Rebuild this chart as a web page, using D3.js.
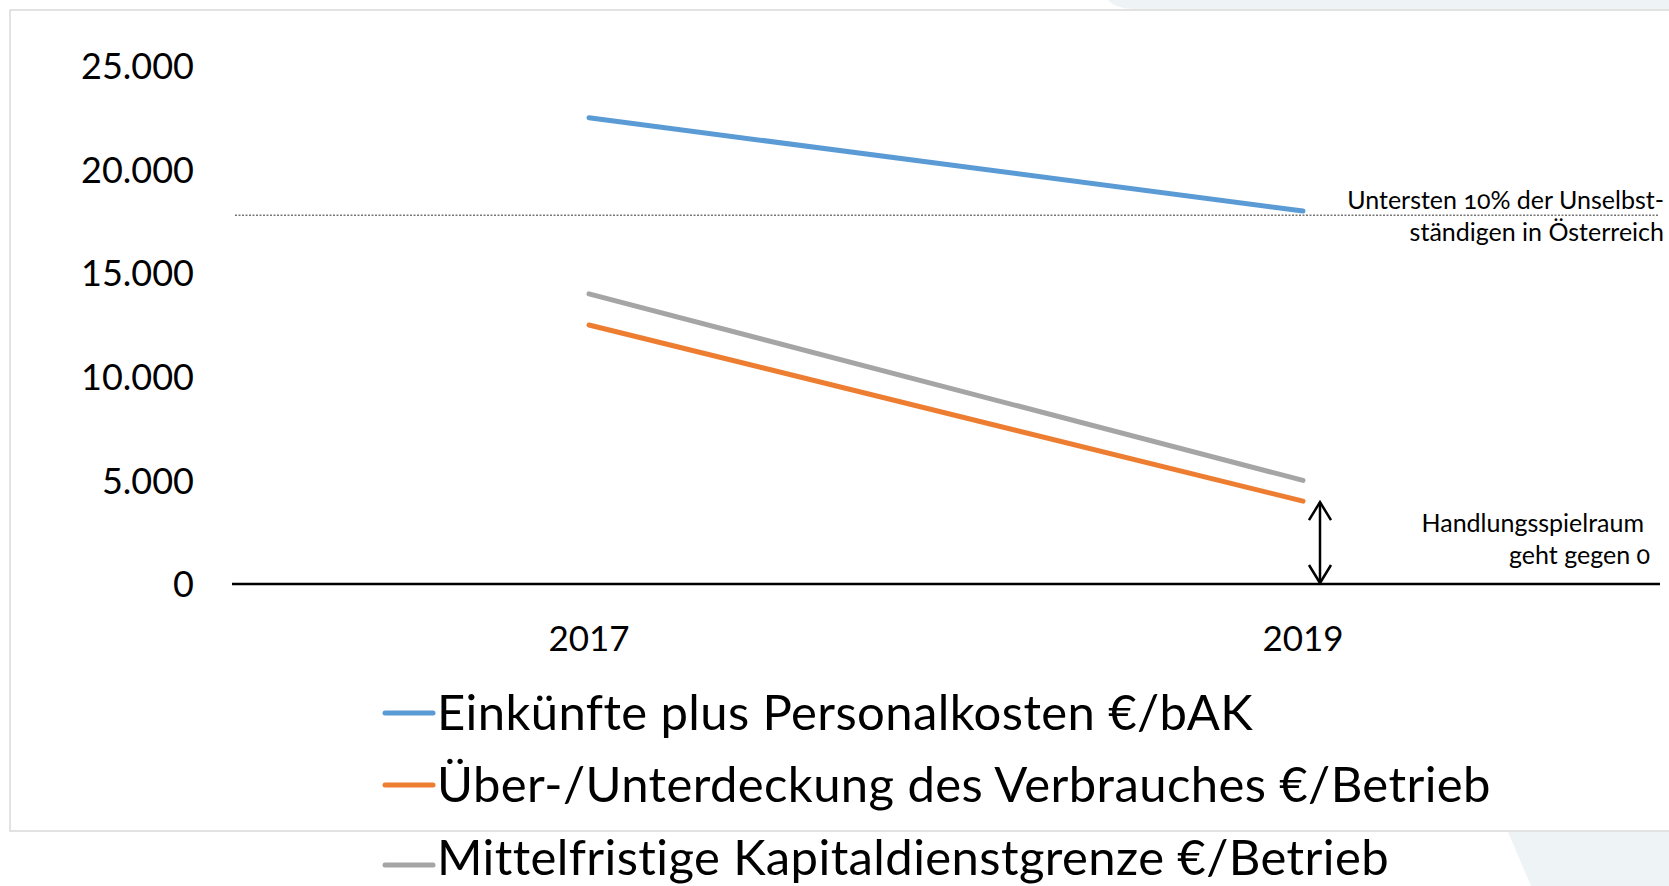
<!DOCTYPE html>
<html>
<head>
<meta charset="utf-8">
<script src="https://cdn.jsdelivr.net/npm/d3@7"></script>
<style>
  html, body { margin: 0; padding: 0; background: #fff; }
  svg { display: block; font-family: Lato, "Open Sans", sans-serif; }
  .note { font-variant-numeric: oldstyle-nums; }
</style>
</head>
<body>
<div id="chart"></div>
<script>
// data
const years = ["2017", "2019"];
const einkuenfte = [22500, 18000];      // Einkünfte plus Personalkosten €/bAK
const deckung = [12500, 4000];          // Über-/Unterdeckung des Verbrauches €/Betrieb
const kapitaldienst = [14000, 5000];    // Mittelfristige Kapitaldienstgrenze €/Betrieb
const yTicks = [0, 5000, 10000, 15000, 20000, 25000];
const untergrenze = 17800;              // unterste 10% der Unselbstständigen
const seriesNames = [
  "Einkünfte plus Personalkosten €/bAK",
  "Über-/Unterdeckung des Verbrauches €/Betrieb",
  "Mittelfristige Kapitaldienstgrenze €/Betrieb"
];
const seriesColors = ["#5b9bd5", "#ed7d31", "#a5a5a5"];

const width = 1669, height = 886;

const svg = d3.select("#chart")
  .append("svg")
  .attr("width", width)
  .attr("height", height);

// slide decoration in the corners
svg.append("path")
  .attr("d", "M1108,0 Q1116,9 1136,9 L1669,9 L1669,0 Z")
  .style("fill", "#eef3f6");
svg.append("path")
  .attr("d", "M1508,832 L1669,832 L1669,886 L1531,886 Z")
  .style("fill", "#eef3f6");

// frame
svg.append("path")
  .attr("d", "M1680,10 L10,10 L10,831 L1680,831")
  .style("fill", "none")
  .style("stroke", "#d9d9d9")
  .style("stroke-width", 1.5);

const de = d3.formatLocale({decimal: ",", thousands: ".", grouping: [3], currency: ["", " €"]});
const fmt = de.format(",.0f");

const x = d3.scaleBand()
  .domain(years)
  .range([232, 1660]);
const cx = d => x(d) + x.bandwidth() / 2;

const y = d3.scaleLinear()
  .domain([0, 25000])
  .range([584, 66]);

// y axis labels
svg.append("g")
  .attr("transform", "translate(194,0)")
  .call(d3.axisLeft(y).tickValues(yTicks).tickFormat(fmt).tickSize(0).tickPadding(0))
  .call(g => g.select(".domain").remove())
  .call(g => g.selectAll("text")
    .attr("dy", "0.35em")
    .style("font-family", "Lato, sans-serif")
    .style("font-size", "36px")
    .style("fill", "#000"));

// x axis labels
svg.append("g")
  .attr("transform", `translate(0,${y(0)})`)
  .call(d3.axisBottom(x).tickSize(0).tickPadding(0))
  .call(g => g.select(".domain").remove())
  .call(g => g.selectAll("text")
    .attr("y", 55)
    .attr("dy", "0.35em")
    .style("font-family", "Lato, sans-serif")
    .style("font-size", "35px")
    .style("fill", "#000"));

// zero line
svg.append("line")
  .attr("x1", x.range()[0]).attr("x2", x.range()[1])
  .attr("y1", y(0)).attr("y2", y(0))
  .style("stroke", "#000")
  .style("stroke-width", 2.6);

// dotted reference line
svg.append("line")
  .attr("x1", 235).attr("x2", 1659)
  .attr("y1", y(untergrenze)).attr("y2", y(untergrenze))
  .style("stroke", "#333")
  .style("stroke-width", 1)
  .style("stroke-dasharray", "2,1.5");

// series lines
const series = [einkuenfte, deckung, kapitaldienst];
const line = d3.line()
  .x((d, i) => cx(years[i]))
  .y(d => y(d));

svg.selectAll(".series")
  .data([kapitaldienst, deckung, einkuenfte])
  .join("path")
  .attr("class", "series")
  .attr("d", d => line(d))
  .style("fill", "none")
  .style("stroke", d => seriesColors[series.indexOf(d)])
  .style("stroke-width", 5)
  .style("stroke-linecap", "round");

// double arrow from 2019 value down to zero
const ax = cx(years[1]) + 17;
const aTop = y(deckung[1]), aBot = y(0);
const arrow = svg.append("g")
  .style("fill", "none")
  .style("stroke", "#000")
  .style("stroke-width", 2.5);
arrow.append("line")
  .attr("x1", ax).attr("x2", ax)
  .attr("y1", aTop + 1).attr("y2", aBot - 1);
arrow.append("path")
  .attr("d", `M${ax - 11},${aTop + 19} L${ax},${aTop + 1} L${ax + 11},${aTop + 19}`);
arrow.append("path")
  .attr("d", `M${ax - 11},${aBot - 19} L${ax},${aBot - 1} L${ax + 11},${aBot - 19}`);

// annotations
const notes = svg.append("g")
  .attr("class", "note")
  .style("font-family", "Lato, sans-serif")
  .style("font-size", "25px")
  .style("fill", "#000")
  .attr("text-anchor", "end");
notes.append("text")
  .attr("x", 1664).attr("y", y(untergrenze) - 15).attr("dy", "0.35em")
  .text("Untersten 10% der Unselbst-");
notes.append("text")
  .attr("x", 1664).attr("y", y(untergrenze) + 17).attr("dy", "0.35em")
  .text("ständigen in Österreich");
notes.append("text")
  .attr("x", 1644).attr("y", 523).attr("dy", "0.35em")
  .text("Handlungsspielraum");
notes.append("text")
  .attr("x", 1650).attr("y", 555).attr("dy", "0.35em")
  .text("geht gegen 0");

// legend
const legendY = [713, 785, 858];
const legend = svg.selectAll(".legend")
  .data(seriesNames)
  .join("g")
  .attr("class", "legend")
  .attr("transform", (d, i) => `translate(383,${legendY[i]})`);
legend.append("line")
  .attr("x1", 2).attr("x2", 50)
  .attr("y1", (d, i) => i === 2 ? 7 : 0)
  .attr("y2", (d, i) => i === 2 ? 7 : 0)
  .style("stroke", (d, i) => seriesColors[i])
  .style("stroke-width", 5)
  .style("stroke-linecap", "round");
legend.append("text")
  .attr("x", 54)
  .attr("dy", "0.35em")
  .style("font-family", "Lato, sans-serif")
  .style("font-size", "49px")
  .style("letter-spacing", "0.4px")
  .style("fill", "#000")
  .text(d => d);
</script>
</body>
</html>
